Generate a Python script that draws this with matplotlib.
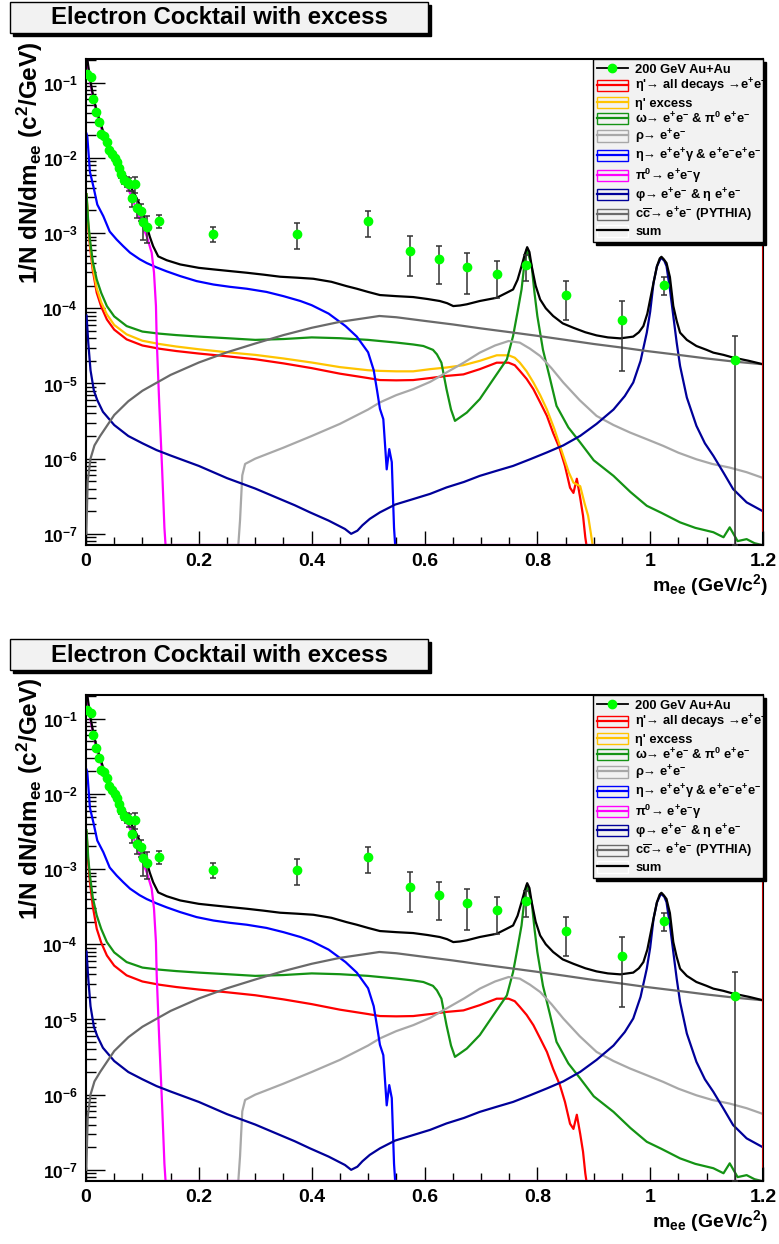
import numpy as np
import matplotlib
matplotlib.use('Agg')
import matplotlib.pyplot as plt
from matplotlib.patches import Rectangle, Patch
from matplotlib.lines import Line2D
from matplotlib.legend_handler import HandlerTuple
from matplotlib.ticker import FixedLocator, MultipleLocator, FuncFormatter, NullFormatter

plt.rcParams['font.family'] = ['Liberation Sans', 'DejaVu Sans']
plt.rcParams['font.weight'] = 'bold'
plt.rcParams['mathtext.fontset'] = 'custom'
plt.rcParams['mathtext.rm'] = 'Liberation Sans:bold'
plt.rcParams['mathtext.it'] = 'Liberation Sans:italic:bold'
plt.rcParams['mathtext.bf'] = 'Liberation Sans:bold'

XMIN, XMAX = 0.0, 1.2
YMIN, YMAX = 7.1e-8, 0.207
y_ticks = [1e-7, 1e-6, 1e-5, 1e-4, 1e-3, 1e-2, 1e-1]

# data points (200 GeV Au+Au)
m_data = [0.0014, 0.0083, 0.013, 0.0177, 0.0225, 0.0272, 0.032, 0.0366, 0.0413, 0.046,
          0.0509, 0.0555, 0.059, 0.0626, 0.0674, 0.0722, 0.0768, 0.0816, 0.0874, 0.091,
          0.098, 0.1017, 0.1075, 0.130, 0.2245, 0.3746, 0.500, 0.5745, 0.625, 0.675,
          0.729, 0.780, 0.850, 0.950, 1.0245, 1.150]
y_data = [0.130, 0.121, 0.0607, 0.0404, 0.0304, 0.0210, 0.0194, 0.0165, 0.0129, 0.0113,
          0.00988, 0.00893, 0.00728, 0.00606, 0.00515, 0.00484, 0.00456, 0.00291, 0.00447, 0.00217,
          0.00194, 0.00140, 0.00120, 0.00147, 0.00098, 0.00098, 0.00143, 5.87e-4, 4.46e-4, 3.52e-4,
          2.82e-4, 3.71e-4, 1.50e-4, 6.97e-5, 2.03e-4, 2.05e-5]
e_data = [0.004, 0.004, 0.002, 0.0015, 0.0012, 0.001, 0.0009, 0.0008, 0.0007, 0.0006,
          0.0006, 0.0005, 0.0005, 0.0006, 0.0006, 0.0007, 0.0009, 0.0007, 0.0011, 0.0006,
          0.0005, 0.0006, 0.00047, 0.00029, 0.00022, 0.00037, 0.00054, 3.2e-4, 2.34e-4, 1.95e-4,
          1.45e-4, 1.4e-4, 8e-5, 5.5e-5, 5.5e-5, 2.2e-5]

# eta' -> all decays
m_etap = [0.001, 0.004, 0.007, 0.012, 0.019, 0.027, 0.037, 0.05, 0.072, 0.1, 0.13, 0.16, 0.2,
          0.25, 0.3, 0.35, 0.4, 0.45, 0.5, 0.521, 0.55, 0.58, 0.61, 0.639, 0.669, 0.698, 0.728,
          0.749, 0.76, 0.769, 0.781, 0.793, 0.805, 0.817, 0.828, 0.84, 0.849, 0.858, 0.864, 0.87,
          0.876, 0.881, 0.885, 0.887]
y_etap = [3.1e-3, 1.2e-3, 6.7e-4, 3.2e-4, 1.61e-4, 1.05e-4, 7.1e-5, 5.2e-5, 3.86e-5, 3.2e-5,
          2.9e-5, 2.7e-5, 2.5e-5, 2.3e-5, 2.1e-5, 1.85e-5, 1.6e-5, 1.35e-5, 1.18e-5, 1.11e-5,
          1.1e-5, 1.11e-5, 1.18e-5, 1.26e-5, 1.32e-5, 1.55e-5, 1.89e-5, 1.89e-5, 1.75e-5, 1.47e-5,
          1.15e-5, 8.4e-6, 5.6e-6, 3.7e-6, 2.2e-6, 1.34e-6, 8e-7, 4.1e-7, 3.5e-7, 5.4e-7,
          3e-7, 1.74e-7, 9e-8, 1e-9]

# eta' excess
m_exc = [0.001, 0.004, 0.007, 0.012, 0.019, 0.027, 0.037, 0.05, 0.072, 0.1, 0.13, 0.16, 0.2,
         0.25, 0.3, 0.35, 0.4, 0.45, 0.5, 0.521, 0.55, 0.58, 0.61, 0.639, 0.669, 0.698, 0.728,
         0.749, 0.76, 0.769, 0.781, 0.793, 0.805, 0.817, 0.83, 0.846, 0.856, 0.864, 0.876, 0.884,
         0.89, 0.895, 0.898]
y_exc = [3.3e-3, 1.3e-3, 7.5e-4, 3.6e-4, 1.85e-4, 1.2e-4, 8.3e-5, 6.0e-5, 4.5e-5, 3.7e-5,
         3.35e-5, 3.1e-5, 2.85e-5, 2.6e-5, 2.4e-5, 2.15e-5, 1.9e-5, 1.65e-5, 1.5e-5, 1.47e-5,
         1.45e-5, 1.45e-5, 1.55e-5, 1.63e-5, 1.75e-5, 2.0e-5, 2.37e-5, 2.37e-5, 2.2e-5, 1.89e-5,
         1.45e-5, 1.03e-5, 7e-6, 4.5e-6, 2.5e-6, 1.09e-6, 6.5e-7, 4.8e-7, 4.3e-7, 2.5e-7,
         1.74e-7, 1e-7, 1e-9]

# omega
m_omega = [0.001, 0.004, 0.007, 0.012, 0.019, 0.027, 0.037, 0.05, 0.072, 0.1, 0.13, 0.16, 0.2,
           0.25, 0.3, 0.35, 0.4, 0.45, 0.5, 0.521, 0.55, 0.58, 0.598, 0.615, 0.622, 0.63, 0.639,
           0.647, 0.654, 0.662, 0.675, 0.698, 0.722, 0.746, 0.757, 0.765, 0.772, 0.778, 0.781,
           0.785, 0.79, 0.795, 0.8, 0.81, 0.822, 0.834, 0.855, 0.876, 0.9, 0.935, 0.965, 0.994,
           1.02, 1.053, 1.08, 1.112, 1.13, 1.141, 1.155, 1.171, 1.185, 1.198]
y_omega = [3.3e-3, 1.4e-3, 8.2e-4, 4.2e-4, 2.42e-4, 1.6e-4, 1.07e-4, 7.8e-5, 5.8e-5, 4.9e-5,
           4.6e-5, 4.4e-5, 4.2e-5, 4.0e-5, 3.8e-5, 3.9e-5, 4.1e-5, 4.0e-5, 3.8e-5, 3.67e-5,
           3.5e-5, 3.3e-5, 3.15e-5, 2.8e-5, 2.44e-5, 1.89e-5, 8.4e-6, 4.5e-6, 3.18e-6, 3.5e-6,
           4.1e-6, 6.2e-6, 1.14e-5, 2.09e-5, 4.27e-5, 9e-5, 1.78e-4, 4.5e-4, 6.05e-4, 5.0e-4,
           3.63e-4, 1.6e-4, 7.9e-5, 2.8e-5, 1.2e-5, 5.04e-6, 2.6e-6, 1.64e-6, 9.5e-7, 5.9e-7,
           3.6e-7, 2.36e-7, 1.9e-7, 1.42e-7, 1.2e-7, 1.05e-7, 9e-8, 1.22e-7, 8e-8, 8.5e-8,
           7.5e-8, 6e-8]

# rho
m_rho = [0.0, 0.27, 0.273, 0.277, 0.282, 0.3, 0.35, 0.4, 0.45, 0.5, 0.521, 0.55, 0.58, 0.61,
         0.639, 0.67, 0.698, 0.725, 0.749, 0.769, 0.787, 0.805, 0.825, 0.846, 0.875, 0.905,
         0.935, 0.964, 0.995, 1.023, 1.05, 1.082, 1.11, 1.141, 1.171, 1.198]
y_rho = [1e-9, 1e-9, 1.5e-7, 6e-7, 8.5e-7, 1.0e-6, 1.4e-6, 2.0e-6, 2.9e-6, 4.5e-6, 5.6e-6,
         7e-6, 8.4e-6, 1.05e-5, 1.4e-5, 1.9e-5, 2.57e-5, 3.2e-5, 3.67e-5, 3.49e-5, 2.9e-5,
         2.32e-5, 1.6e-5, 1.03e-5, 6e-6, 3.7e-6, 2.8e-6, 2.23e-6, 1.8e-6, 1.48e-6, 1.2e-6,
         9.8e-7, 8.5e-7, 7.6e-7, 6.6e-7, 5.6e-7]

# eta Dalitz
m_eta = [0.001, 0.0024, 0.007, 0.013, 0.02, 0.0307, 0.042, 0.0544, 0.066, 0.078, 0.095, 0.1075,
         0.125, 0.143, 0.167, 0.196, 0.226, 0.255, 0.285, 0.32, 0.35, 0.38, 0.4, 0.43, 0.46,
         0.48, 0.5, 0.51, 0.516, 0.521, 0.527, 0.533, 0.5375, 0.542, 0.546, 0.548]
y_eta = [2.1e-2, 1.9e-2, 6.5e-3, 4.2e-3, 2.4e-3, 1.68e-3, 1.05e-3, 8.2e-4, 6.7e-4, 5.5e-4,
         4.5e-4, 4.0e-4, 3.5e-4, 3.1e-4, 2.68e-4, 2.3e-4, 2.07e-4, 1.93e-4, 1.82e-4, 1.65e-4,
         1.45e-4, 1.25e-4, 1.1e-4, 8.5e-5, 5.8e-5, 4.2e-5, 2.6e-5, 1.5e-5, 8e-6, 4.6e-6,
         3.35e-6, 7.2e-7, 1.34e-6, 9e-7, 1.2e-7, 1e-9]

# pi0 Dalitz
m_pi0 = [0.0005, 0.003, 0.006, 0.01, 0.015, 0.02, 0.03, 0.04, 0.05, 0.06, 0.07, 0.081, 0.0957,
         0.1076, 0.1164, 0.1205, 0.124, 0.1253, 0.13, 0.135, 0.139, 0.141, 1.2]
y_pi0 = [0.25, 0.17, 0.12, 0.08, 0.052, 0.037, 0.021, 0.013, 0.0088, 0.0062, 0.0045, 3.1e-3,
         1.5e-3, 9.1e-4, 5.5e-4, 3e-4, 1.07e-4, 3.9e-5, 5e-6, 7e-7, 1.2e-7, 1e-9, 1e-9]

# phi
m_phi = [0.001, 0.004, 0.008, 0.014, 0.02, 0.03, 0.05, 0.075, 0.1, 0.125, 0.15, 0.2, 0.25, 0.3,
         0.344, 0.37, 0.397, 0.43, 0.459, 0.47, 0.481, 0.49, 0.503, 0.521, 0.548, 0.58, 0.61,
         0.639, 0.67, 0.698, 0.728, 0.757, 0.787, 0.817, 0.846, 0.876, 0.905, 0.935, 0.955,
         0.97, 0.983, 0.994, 1.0, 1.006, 1.012, 1.019, 1.025, 1.029, 1.035, 1.041, 1.047, 1.053,
         1.065, 1.082, 1.097, 1.112, 1.13, 1.147, 1.171, 1.198]
y_phi = [8e-5, 3.5e-5, 1.5e-5, 8e-6, 6e-6, 4.2e-6, 2.8e-6, 2e-6, 1.6e-6, 1.3e-6, 1.1e-6, 8e-7,
         5.5e-7, 4e-7, 2.9e-7, 2.4e-7, 1.93e-7, 1.5e-7, 1.16e-7, 1.0e-7, 1.1e-7, 1.3e-7, 1.58e-7,
         1.93e-7, 2.45e-7, 2.9e-7, 3.4e-7, 4.14e-7, 4.9e-7, 5.9e-7, 6.9e-7, 8.0e-7, 9.8e-7,
         1.21e-6, 1.5e-6, 2.01e-6, 2.9e-6, 4.5e-6, 6.8e-6, 1.03e-5, 2.0e-5, 4.74e-5, 9e-5,
         2.19e-4, 3.6e-4, 4.7e-4, 4.3e-4, 3.63e-4, 1.8e-4, 7.9e-5, 3.5e-5, 1.71e-5, 6.5e-6,
         2.73e-6, 1.6e-6, 1.09e-6, 6.5e-7, 3.94e-7, 2.62e-7, 2.03e-7]

# c cbar (PYTHIA)
m_ccbar = [0.0005, 0.003, 0.008, 0.015, 0.025, 0.05, 0.075, 0.1, 0.15, 0.2, 0.25, 0.3, 0.35,
           0.4, 0.45, 0.5, 0.52, 0.55, 0.6, 0.65, 0.7, 0.757, 0.8, 0.85, 0.9, 0.95, 0.994, 1.05,
           1.1, 1.15, 1.2]
y_ccbar = [1e-7, 5e-7, 1.0e-6, 1.5e-6, 2e-6, 3.8e-6, 5.8e-6, 8e-6, 1.3e-5, 1.9e-5, 2.6e-5,
           3.4e-5, 4.4e-5, 5.5e-5, 6.6e-5, 7.5e-5, 7.9e-5, 7.6e-5, 6.8e-5, 6.1e-5, 5.4e-5,
           4.75e-5, 4.3e-5, 3.8e-5, 3.35e-5, 3.0e-5, 2.7e-5, 2.4e-5, 2.15e-5, 1.95e-5, 1.8e-5]

# sum
m_sum = [0.0005, 0.003, 0.006, 0.01, 0.015, 0.02, 0.03, 0.04, 0.05, 0.06, 0.07, 0.08, 0.09, 0.1,
         0.107, 0.113, 0.119, 0.128, 0.143, 0.167, 0.2, 0.226, 0.26, 0.285, 0.315, 0.344, 0.375,
         0.403, 0.435, 0.462, 0.48, 0.5, 0.521, 0.55, 0.58, 0.605, 0.627, 0.64, 0.651, 0.663,
         0.675, 0.698, 0.728, 0.745, 0.757, 0.765, 0.772, 0.778, 0.782, 0.786, 0.79, 0.797,
         0.805, 0.815, 0.828, 0.845, 0.864, 0.885, 0.905, 0.925, 0.947, 0.97, 0.98, 0.988, 0.995,
         1.0, 1.006, 1.012, 1.017, 1.02, 1.024, 1.029, 1.035, 1.041, 1.047, 1.053, 1.065, 1.082,
         1.1, 1.112, 1.13, 1.147, 1.175, 1.2]
y_sum = [0.3, 0.19, 0.13, 0.085, 0.055, 0.04, 0.023, 0.015, 0.0105, 0.0075, 0.0055, 0.004,
         0.0029, 0.002, 0.0013, 9.0e-4, 6.7e-4, 4.9e-4, 4.36e-4, 3.83e-4, 3.45e-4, 3.29e-4,
         3.1e-4, 2.97e-4, 2.8e-4, 2.63e-4, 2.55e-4, 2.47e-4, 2.25e-4, 1.97e-4, 1.82e-4, 1.65e-4,
         1.5e-4, 1.45e-4, 1.41e-4, 1.33e-4, 1.25e-4, 1.17e-4, 1.07e-4, 1.09e-4, 1.13e-4, 1.25e-4,
         1.38e-4, 1.6e-4, 1.78e-4, 2.4e-4, 3.63e-4, 5.3e-4, 6.5e-4, 5.6e-4, 3.63e-4, 2.0e-4,
         1.31e-4, 1.0e-4, 7.9e-5, 6.3e-5, 5.5e-5, 4.8e-5, 4.36e-5, 4.1e-5, 3.98e-5, 4.2e-5,
         4.8e-5, 5.8e-5, 8.5e-5, 1.31e-4, 2.2e-4, 3.63e-4, 4.6e-4, 4.84e-4, 4.5e-4, 4.0e-4,
         2.6e-4, 1.07e-4, 6.8e-5, 4.74e-5, 3.8e-5, 3.15e-5, 2.8e-5, 2.57e-5, 2.4e-5, 2.21e-5,
         2.0e-5, 1.8e-5]

labels = ["200 GeV Au+Au",
          "\u03b7'\u2192 all decays \u2192e$^{+}$e$^{-}$",
          "\u03b7' excess",
          "\u03c9\u2192 e$^{+}$e$^{-}$ & \u03c0$^{0}$ e$^{+}$e$^{-}$",
          "\u03c1\u2192 e$^{+}$e$^{-}$",
          "\u03b7\u2192 e$^{+}$e$^{+}$\u03b3 & e$^{+}$e$^{-}$e$^{+}$e$^{-}$",
          "\u03c0$^{0}$\u2192 e$^{+}$e$^{-}$\u03b3",
          "\u03c6\u2192 e$^{+}$e$^{-}$ & \u03b7 e$^{+}$e$^{-}$",
          "c$\\overline{\\mathrm{c}}$\u2192 e$^{+}$e$^{-}$ (PYTHIA)",
          "sum"]

curves = [(m_etap, y_etap, '#ff0000'),
          (m_exc, y_exc, '#ffc400'),
          (m_omega, y_omega, '#149314'),
          (m_rho, y_rho, '#a8a8a8'),
          (m_eta, y_eta, '#0000ff'),
          (m_pi0, y_pi0, '#ff00ff'),
          (m_phi, y_phi, '#000099'),
          (m_ccbar, y_ccbar, '#6a6a6a'),
          (m_sum, y_sum, '#000000')]

W, H = 779, 1244
fig = plt.figure(figsize=(W / 100, H / 100), dpi=100)


def title_box(top_px):
    x0, x1, y0, y1 = 10, 428, top_px, top_px + 31
    fig.add_artist(Rectangle(((x0 + 3) / W, 1 - (y1 + 3) / H), (x1 - x0) / W, (y1 - y0) / H,
                             transform=fig.transFigure, facecolor='black', edgecolor='black'))
    fig.add_artist(Rectangle((x0 / W, 1 - y1 / H), (x1 - x0) / W, (y1 - y0) / H,
                             transform=fig.transFigure, facecolor='#f2f2f2', edgecolor='black',
                             lw=1.0))
    fig.text((x0 + x1) / 2 / W, 1 - (y0 + y1 + 1) / 2 / H, 'Electron Cocktail with excess',
             ha='center', va='center', fontsize=17.3, fontweight='bold')


def panel(top_px, show_excess):
    ax = fig.add_axes([86 / W, 1 - (top_px + 486) / H, 677 / W, 486 / H])
    ax.set_yscale('log')
    handles = []
    for i, (m, y, c) in enumerate(curves):
        yy = np.clip(np.array(y), YMIN, None)
        if i == 1 and not show_excess:
            pass
        else:
            ax.plot(m, yy, color=c, lw=1.6, zorder=2 + i * 0.1)
        edge = 'white' if i == len(curves) - 1 else c
        handles.append((Patch(facecolor='#f2f2f2', edgecolor=edge, lw=1.0),
                        Line2D([], [], color=c, lw=1.6)))
    ax.axvline(XMAX, ymin=0.03, ymax=1.0, color='#ff0000', lw=1.8, zorder=3)

    yd = np.array(y_data)
    ed = np.array(e_data)
    lo = np.minimum(ed, yd - YMIN)
    ax.errorbar(m_data, yd, yerr=[lo, ed], fmt='o', ms=6, mfc='#00ff00', mec='#00ff00',
                ecolor='#333333', elinewidth=1.1, capsize=2.5, capthick=1.1, zorder=5)
    data_handle = Line2D([], [], color='black', lw=1.3, marker='o', ms=6,
                         mfc='#00ff00', mec='#00ff00')

    ax.set_xlim(XMIN, XMAX)
    ax.set_ylim(YMIN, YMAX)
    ax.xaxis.set_major_locator(MultipleLocator(0.2))
    ax.xaxis.set_minor_locator(MultipleLocator(0.05))
    ax.xaxis.set_major_formatter(FuncFormatter(lambda v, p: '%g' % round(v, 2)))
    minor = [d * k for d in [1e-8] + y_ticks for k in range(2, 10)]
    minor = [v for v in minor if YMIN <= v <= YMAX]
    ax.yaxis.set_major_locator(FixedLocator(y_ticks))
    ax.yaxis.set_minor_locator(FixedLocator(minor))
    ax.yaxis.set_minor_formatter(NullFormatter())
    ax.yaxis.set_major_formatter(FuncFormatter(lambda v, p: '10$^{%d}$' % int(round(np.log10(v)))))
    ax.tick_params(which='both', direction='in', top=False, right=False, width=1.0, pad=6)
    ax.tick_params(axis='y', which='major', length=14, labelsize=12.5)
    ax.tick_params(axis='y', which='minor', length=7)
    ax.tick_params(axis='x', which='major', length=10, labelsize=14)
    ax.tick_params(axis='x', which='minor', length=6)
    for s in ax.spines.values():
        s.set_linewidth(1.5)

    ax.text(1.008, -0.083, 'm$_{\\mathrm{ee}}$ (GeV/c$^{2}$)', transform=ax.transAxes,
            ha='right', va='center', fontsize=14, fontweight='bold')
    ax.text(-0.083, 1.036, '1/N dN/dm$_{\\mathrm{ee}}$ (c$^{2}$/GeV)', transform=ax.transAxes,
            rotation=90, ha='center', va='top', fontsize=17.5, fontweight='bold')

    leg = ax.legend([data_handle] + handles, labels,
                    handler_map={tuple: HandlerTuple(ndivide=1, pad=0.0)},
                    loc='upper left', bbox_to_anchor=(0.749, 0.0, 0.251, 1.0), mode='expand',
                    borderaxespad=0.0, fontsize=9.3, labelspacing=0.1, borderpad=0.3,
                    handlelength=2.4, handleheight=0.95, handletextpad=0.55,
                    fancybox=False, frameon=True, edgecolor='black', facecolor='#f2f2f2',
                    framealpha=1.0, shadow={'color': 'black', 'alpha': 1.0})
    leg.get_frame().set_linewidth(1.0)
    leg.set_zorder(10)
    for t in leg.get_texts():
        t.set_fontweight('bold')
    return ax


title_box(2)
panel(59, True)
title_box(639)
panel(695, False)

fig.savefig('out.png', dpi=100)
